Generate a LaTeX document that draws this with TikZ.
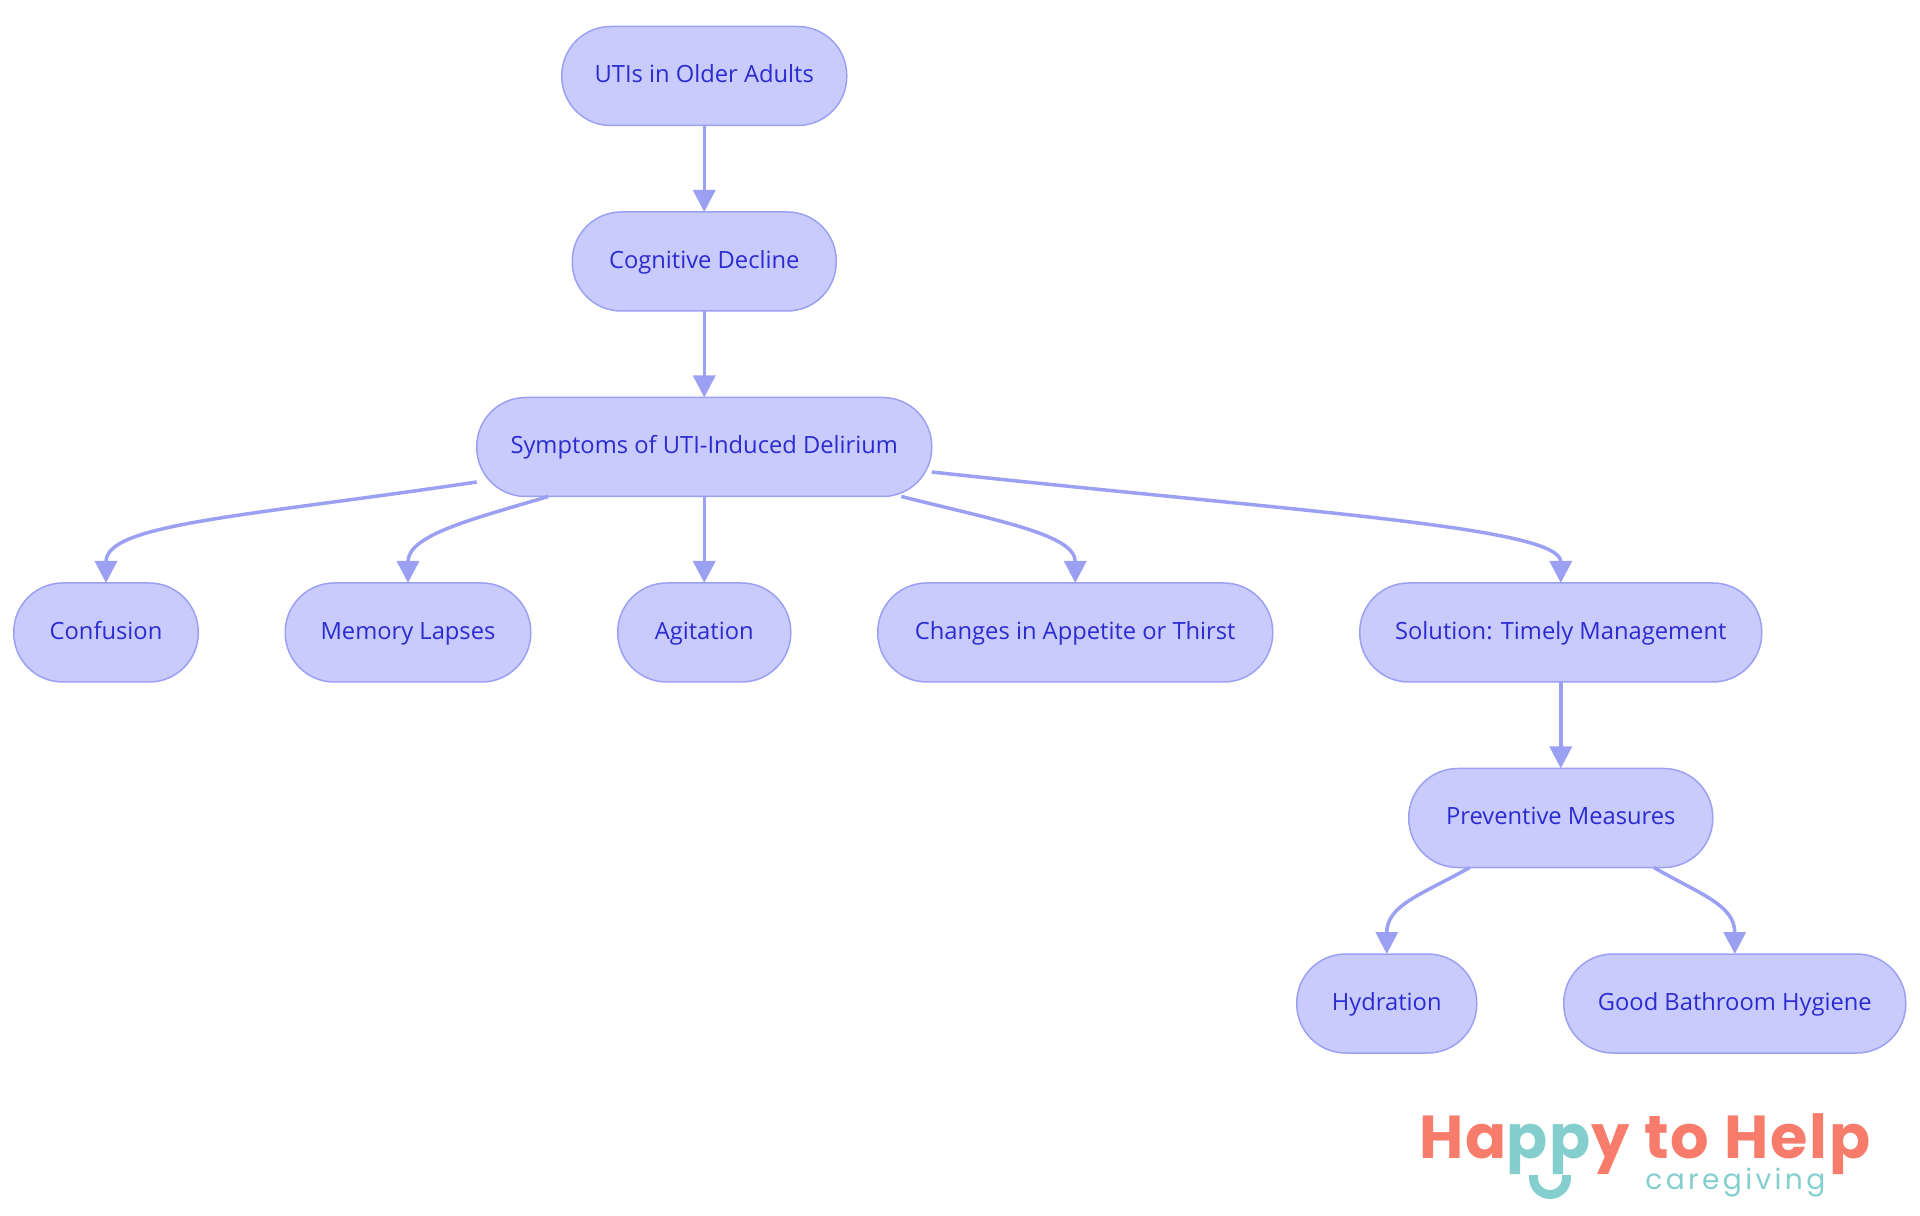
\documentclass[tikz,border=0pt]{standalone}
\usepackage{fontspec}
\setmainfont{Open Sans}
\newfontfamily\logofont{Poppins}
\usepackage{xcolor}
\usetikzlibrary{arrows.meta,positioning,calc}
\definecolor{termfill}{HTML}{C9CBFD}
\definecolor{termline}{HTML}{9CA0F3}
\definecolor{termtext}{HTML}{2B2BD0}
\definecolor{logocoral}{HTML}{F87C6C}
\definecolor{logoteal}{HTML}{84CFCD}

\begin{document}
\begin{tikzpicture}[
  node distance=17.3mm and 17.4mm,
  term/.style ={draw=termline,line width=0.3mm,fill=termfill,text=termtext,
                rounded corners=9.8mm,minimum height=19.8mm,inner sep=0pt,outer sep=0pt,
                text height=3.6mm,text depth=0.9mm,
                font=\fontsize{13.5pt}{16pt}\selectfont},
  link/.style ={draw=termline,line width=0.7mm,-{Triangle[length=4.4mm,width=4.4mm]}}]

\useasboundingbox (0,0) rectangle (384mm,243mm);

% ---------- Row 4 : symptoms ----------
\node[term,minimum width=36.9mm] (conf) at (21.2mm,116.5mm) {Confusion};
\node[term,minimum width=49.1mm,right=of conf] (mem) {Memory Lapses};
\node[term,minimum width=34.6mm,right=of mem]  (agit) {Agitation};
\node[term,minimum width=79mm,right=of agit]   (chg) {Changes in Appetite or Thirst};
\node[term,minimum width=80.4mm,right=of chg]  (sol) {Solution: Timely Management};

% ---------- Rows 1-3 : above the symptoms ----------
\node[term,minimum width=91mm,above=of agit]  (sym) {Symptoms of UTI-Induced Delirium};
\node[term,minimum width=52.8mm,above=of sym] (cog) {Cognitive Decline};
\node[term,minimum width=57mm,above=of cog]   (uti) {UTIs in Older Adults};

% ---------- Rows 5-6 : prevention ----------
\node[term,minimum width=60.8mm,below=of sol] (prev) {Preventive Measures};
\node[term,minimum width=36mm,below=of prev,xshift=-34.8mm] (hyd) {Hydration};
\node[term,minimum width=68.4mm,right=of hyd] (good) {Good Bathroom Hygiene};

% ---------- Connectors ----------
\draw[link] (uti) -- (cog);
\draw[link] (cog) -- (sym);
\draw[link] (sym) -- (agit);
\draw[link] (sol) -- (prev);
\draw[link] ($(sym.west)+(0,-7mm)$) .. controls +(-47.2mm,-7mm) and +(0,11.8mm) .. (conf.north);
\draw[link] ($(sym.south)+(-31.2mm,0)$) .. controls +(-15.4mm,-4.6mm) and +(0,9.6mm) .. (mem.north);
\draw[link] ($(sym.south)+(39.4mm,0)$) .. controls +(20mm,-5mm) and +(0,9.6mm) .. (chg.north);
\draw[link] ($(sym.east)+(0,-5mm)$) .. controls +(73.8mm,-8mm) and +(0,11.2mm) .. (sol.north);
\draw[link] ($(prev.south)+(-18.2mm,0)$) .. controls +(-9.6mm,-5.4mm) and +(0,9.8mm) .. (hyd.north);
\draw[link] ($(prev.south)+(18.6mm,0)$) .. controls +(9.4mm,-5.4mm) and +(0,9.8mm) .. (good.north);

% ---------- Logo ----------
\node[anchor=base west,inner sep=0pt,text=logocoral,font=\logofont\bfseries\fontsize{34.5pt}{40pt}\selectfont\addfontfeature{LetterSpace=3.2}]
  (happy) at (283.8mm,11.4mm) {Ha{\color{logoteal}pp}y to Help};
\node[anchor=base west,inner sep=0pt,text=logoteal,font=\logofont\fontsize{16pt}{20pt}\selectfont\addfontfeature{LetterSpace=12}]
  (care) at (329mm,5.2mm) {caregiving};
\draw[logoteal,line width=1.8mm] (306.7mm,8mm) -- ++(0,-0.6mm) arc[start angle=180,end angle=360,radius=3.3mm] -- ++(0,0.6mm);

\end{tikzpicture}
\end{document}
